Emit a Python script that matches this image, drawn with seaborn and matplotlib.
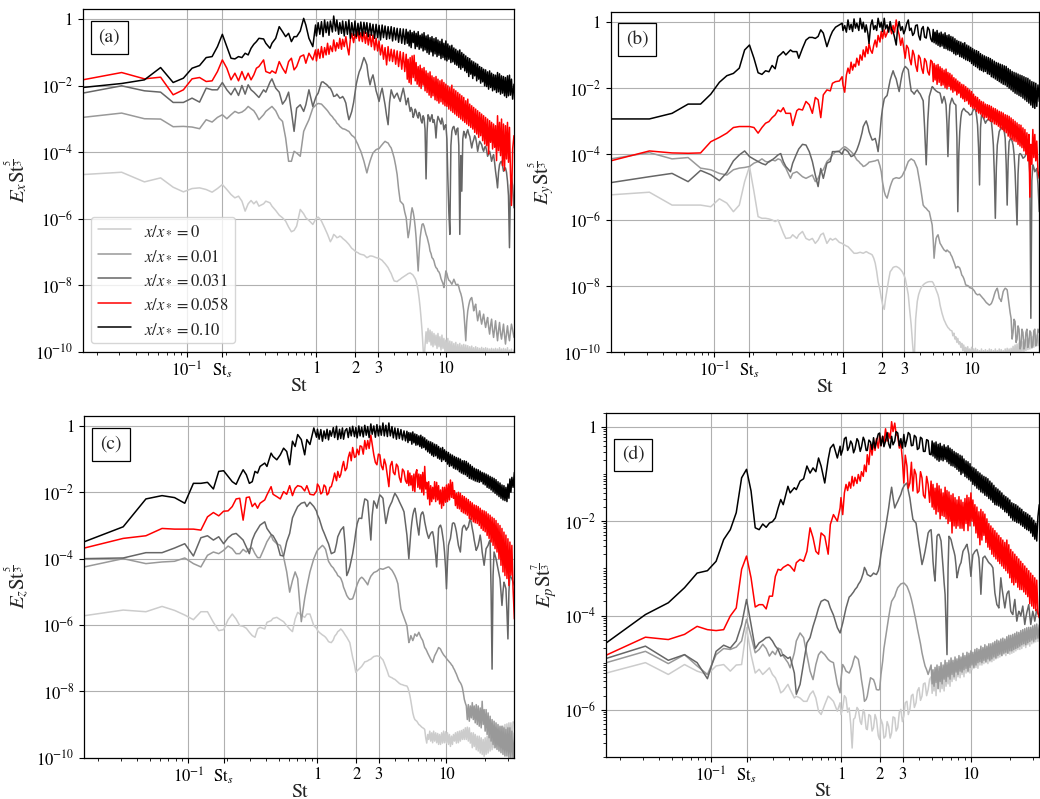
import numpy as np
import pandas as pd
import matplotlib
matplotlib.use("Agg")
import matplotlib.pyplot as plt
import matplotlib.ticker as mticker
import seaborn as sns

# Frequency bins of the spectra: St = bin * DST
DST = 1.0 / 64.0
BINS = [1, 2, 3, 4, 5, 6, 7, 8, 9, 10,
        11, 12, 13, 14, 15, 16, 17, 18, 19, 20,
        21, 22, 23, 25, 26, 28, 29, 31, 33, 35,
        37, 39, 41, 43, 45, 48, 51, 53, 56, 60,
        63, 64, 66, 68, 70, 72, 74, 76, 78, 80,
        82, 85, 87, 90, 92, 95, 97, 100, 102, 105,
        108, 111, 114, 117, 120, 124, 127, 130, 134, 137,
        141, 145, 149, 153, 157, 161, 166, 170, 175, 180,
        185, 190, 195, 200, 206, 211, 217, 223, 229, 235,
        242, 248, 255, 262, 269, 276, 284, 292, 300, 308,
        316, 322, 327, 333, 339, 345, 351, 358, 364, 371,
        377, 384, 391, 398, 405, 412, 419, 427, 434, 442,
        450, 458, 466, 475, 483, 492, 500, 509, 518, 528,
        537, 547, 556, 566, 576, 587, 597, 608, 618, 630,
        640, 652, 663, 675, 687, 700, 712, 725, 738, 751,
        764, 778, 792, 806, 820, 835, 850, 865, 880, 896,
        912, 928, 945, 962, 979, 997, 1014, 1033, 1050, 1069,
        1088, 1108, 1127, 1148, 1168, 1189, 1210, 1232, 1253, 1276,
        1298, 1322, 1345, 1369, 1394, 1419, 1444, 1470, 1496, 1523,
        1549, 1577, 1605, 1634, 1663, 1693, 1723, 1754, 1785, 1817,
        1849, 1883, 1916, 1950, 1985, 2020, 2056, 2100, 2150]
ST_S = 12 * DST  # shedding Strouhal number

STATIONS = [r"$x/x_*=0$", r"$x/x_*=0.01$", r"$x/x_*=0.031$",
            r"$x/x_*=0.058$", r"$x/x_*=0.10$"]
COLORS = ["#cccccc", "#999999", "#666666", "#ff0000", "#000000"]

# ---- log10 of compensated spectra, E_x St^(5/3) ----
EX_X000 = [-4.67, -4.60, -4.89, -4.77, -5.05, -5.19, -5.09, -5.07, -5.12, -5.20,
           -5.09, -4.97, -5.12, -5.27, -5.37, -5.32, -5.47, -5.77, -5.55, -5.45,
           -5.55, -5.47, -5.62, -5.55, -5.47, -5.52, -5.62, -5.75, -5.89, -5.97,
           -6.07, -6.25, -6.39, -6.35, -6.22, -5.72, -5.85, -5.97, -6.05, -6.17,
           -6.02, -5.98, -5.95, -6.00, -6.07, -6.17, -6.27, -6.37, -6.47, -6.58,
           -6.69, -6.58, -6.47, -6.52, -6.57, -6.55, -6.52, -6.55, -6.59, -6.63,
           -6.67, -6.72, -6.77, -6.83, -6.89, -6.93, -6.97, -7.00, -7.02, -7.05,
           -7.07, -7.08, -7.09, -7.13, -7.17, -7.15, -7.12, -7.12, -7.13, -7.15,
           -7.17, -7.18, -7.19, -7.22, -7.25, -7.30, -7.35, -7.41, -7.47, -7.56,
           -7.65, -7.76, -7.87, -7.88, -7.89, -7.85, -7.82, -7.78, -7.75, -7.72,
           -7.69, -7.67, -7.65, -7.64, -7.63, -7.65, -7.67, -7.70, -7.75, -7.80,
           -7.87, -8.00, -8.17, -8.40, -8.67, -9.00, -9.37, -9.90, -10.3, -9.80,
           -9.40, -9.75, -9.30, -9.70, -9.35, -9.80, -9.40, -9.85, -9.45, -9.80,
           -9.50, -9.90, -9.45, -9.85, -9.55, -9.95, -9.50, -9.90, -9.60, -10.0,
           -9.65, -10.05, -9.60, -10.1, -9.68, -10.1, -9.70, -10.15, -9.75, -10.2,
           -9.72, -10.2, -9.78, -10.2, -9.75, -10.2, -9.80, -10.2, -9.78, -10.2,
           -9.80, -10.2, -9.82, -10.2, -9.85, -10.2, -9.83, -10.2, -9.88, -10.2,
           -9.85, -10.2, -9.88, -10.2, -9.90, -10.2, -9.87, -10.2, -9.90, -10.2,
           -9.88, -10.2, -9.90, -10.2, -9.92, -10.2, -9.90, -10.2, -9.92, -10.2,
           -9.90, -10.2, -9.92, -10.2, -9.88, -10.2, -9.92, -10.2, -9.90, -10.2,
           -9.92, -10.2, -9.88, -10.2, -9.95, -10.2, -9.92, -10.2, -9.95]
EX_X010 = [-2.95, -2.82, -2.99, -3.00, -3.23, -3.22, -3.24, -3.29, -3.02, -3.09,
           -2.95, -2.87, -2.99, -2.87, -2.77, -2.82, -2.79, -2.72, -2.62, -2.69,
           -2.75, -2.87, -3.02, -2.87, -2.77, -2.67, -2.62, -2.75, -2.97, -3.07,
           -3.57, -4.27, -4.27, -3.97, -4.02, -4.12, -3.37, -3.22, -3.02, -2.67,
           -2.59, -2.56, -2.53, -2.54, -2.55, -2.60, -2.65, -2.70, -2.75, -2.81,
           -2.87, -2.93, -2.99, -3.05, -3.12, -3.17, -3.22, -3.26, -3.29, -3.30,
           -3.32, -3.35, -3.37, -3.43, -3.49, -3.53, -3.57, -3.67, -3.77, -3.87,
           -3.97, -4.12, -4.27, -4.45, -4.62, -4.45, -4.27, -4.15, -4.02, -3.97,
           -3.92, -3.90, -3.89, -3.83, -3.77, -3.72, -3.67, -3.70, -3.72, -3.80,
           -3.87, -4.00, -4.17, -4.40, -4.67, -5.10, -5.47, -5.52, -5.57, -5.80,
           -5.97, -6.30, -6.57, -6.40, -6.17, -5.85, -5.67, -5.80, -5.97, -6.25,
           -6.57, -7.10, -7.57, -7.00, -6.57, -6.35, -6.17, -6.15, -6.22, -6.35,
           -6.47, -6.55, -6.67, -6.80, -6.97, -7.05, -7.17, -7.20, -7.27, -7.40,
           -7.47, -7.50, -7.57, -7.60, -7.67, -7.80, -7.87, -7.95, -8.07, -7.80,
           -7.57, -7.65, -7.77, -7.85, -7.87, -7.92, -7.97, -7.90, -7.82, -7.90,
           -7.97, -8.00, -7.97, -8.05, -8.17, -8.25, -8.37, -8.55, -8.77, -9.20,
           -9.67, -9.10, -8.77, -8.60, -8.47, -8.40, -8.37, -8.55, -8.77, -8.65,
           -8.57, -8.85, -9.07, -8.90, -8.77, -9.00, -9.17, -9.00, -8.87, -9.10,
           -9.27, -9.10, -8.97, -9.25, -9.47, -9.20, -9.02, -9.35, -9.57, -9.30,
           -9.07, -9.40, -9.67, -9.35, -9.12, -9.45, -9.62, -9.40, -9.17, -9.50,
           -9.77, -9.45, -9.22, -9.50, -9.67, -9.40, -9.17, -9.35, -9.57]
EX_X031 = [-2.22, -2.00, -2.15, -2.19, -2.50, -2.50, -2.37, -2.49, -2.07, -2.12,
           -2.12, -1.90, -2.12, -2.27, -2.07, -2.29, -1.99, -2.25, -1.97, -2.12,
           -2.19, -2.27, -2.35, -2.12, -2.19, -1.89, -1.79, -2.07, -2.19, -2.55,
           -2.42, -2.19, -2.77, -3.37, -2.67, -2.57, -2.77, -2.57, -2.12, -2.62,
           -2.37, -2.30, -2.22, -2.05, -1.89, -1.88, -1.92, -1.95, -1.99, -2.05,
           -2.07, -2.20, -2.32, -2.30, -2.25, -2.32, -2.37, -2.35, -2.32, -2.40,
           -2.52, -2.80, -3.02, -2.90, -2.77, -2.50, -2.22, -1.95, -1.72, -1.58,
           -1.47, -1.30, -1.15, -1.25, -1.37, -1.70, -1.97, -1.80, -1.67, -1.90,
           -2.15, -2.30, -2.47, -2.25, -2.07, -2.30, -2.57, -2.90, -3.17, -2.50,
           -2.12, -2.25, -2.37, -2.28, -2.22, -2.35, -2.47, -2.25, -2.07, -2.30,
           -2.57, -2.45, -2.37, -2.60, -2.77, -2.65, -2.72, -2.95, -2.87, -2.70,
           -2.77, -2.90, -2.97, -2.80, -2.87, -3.05, -3.12, -2.90, -2.97, -3.30,
           -4.80, -3.40, -2.87, -2.95, -3.07, -2.95, -2.87, -3.10, -3.02, -3.20,
           -3.57, -3.10, -2.92, -3.00, -3.07, -3.15, -2.97, -3.10, -3.32, -3.20,
           -3.17, -3.60, -4.77, -5.80, -6.47, -3.80, -3.37, -3.25, -3.22, -3.35,
           -3.47, -3.30, -3.27, -3.80, -6.47, -4.10, -5.17, -3.60, -3.37, -3.45,
           -3.57, -3.40, -3.32, -3.45, -3.52, -3.70, -3.87, -3.70, -3.62, -3.50,
           -3.57, -3.75, -3.97, -3.80, -3.67, -3.72, -3.77, -3.90, -3.97, -3.85,
           -3.82, -3.95, -4.12, -4.05, -3.97, -4.10, -4.27, -4.15, -4.07, -4.30,
           -4.57, -4.80, -5.07, -4.60, -4.37, -4.30, -4.27, -4.40, -4.57, -4.50,
           -4.47, -4.60, -4.87, -5.30, -6.87, -5.00, -4.77, -5.00, -5.67]
EX_X058 = [-1.82, -1.60, -1.79, -1.74, -2.27, -2.12, -1.79, -1.75, -1.87, -1.85,
           -1.57, -1.22, -1.47, -1.82, -1.62, -1.85, -1.57, -1.82, -1.62, -1.82,
           -1.67, -1.47, -1.42, -1.22, -1.57, -1.62, -1.55, -1.62, -1.27, -1.47,
           -1.62, -1.27, -1.17, -1.52, -1.42, -1.12, -1.07, -1.32, -1.02, -1.22,
           -0.92, -1.25, -0.90, -1.17, -0.82, -1.15, -0.85, -1.07, -0.72, -1.05,
           -0.80, -0.97, -0.62, -0.95, -0.70, -0.87, -0.57, -0.90, -0.60, -0.82,
           -0.52, -0.85, -1.07, -0.60, -0.42, -0.70, -0.45, -0.57, -0.35, -0.65,
           -0.40, -0.67, -0.37, -0.72, -0.40, -0.77, -0.45, -0.82, -0.47, -0.92,
           -0.57, -0.95, -0.65, -1.07, -0.77, -1.20, -0.85, -1.37, -0.82, -1.25,
           -0.90, -1.27, -0.92, -1.35, -0.95, -1.42, -0.97, -1.50, -1.00, -1.57,
           -1.05, -1.80, -1.20, -1.90, -1.15, -1.95, -1.10, -1.75, -1.08, -1.85,
           -1.30, -1.95, -1.42, -2.02, -1.38, -2.08, -1.48, -1.98, -1.45, -2.15,
           -1.55, -2.20, -1.62, -2.28, -1.58, -2.35, -1.70, -2.30, -1.75, -2.42,
           -1.72, -2.45, -1.80, -2.52, -1.85, -2.48, -1.82, -2.55, -1.90, -2.60,
           -1.95, -2.62, -2.00, -2.70, -2.05, -2.75, -1.98, -2.80, -2.10, -2.85,
           -2.15, -2.90, -2.20, -2.95, -2.25, -3.00, -2.30, -3.05, -2.35, -3.10,
           -2.45, -3.15, -2.40, -3.20, -2.55, -3.25, -2.60, -3.30, -2.65, -3.40,
           -2.70, -3.45, -2.75, -3.55, -2.80, -3.50, -2.85, -3.65, -2.90, -3.75,
           -2.95, -3.80, -3.00, -4.05, -3.05, -3.70, -3.10, -3.90, -3.15, -3.85,
           -3.20, -4.25, -2.90, -3.95, -3.10, -4.10, -3.00, -4.40, -3.15, -4.55,
           -3.20, -4.20, -3.10, -4.30, -3.25, -4.60, -5.60, -3.90, -3.50]
EX_X100 = [-2.05, -1.93, -1.82, -1.45, -1.90, -1.77, -1.47, -1.39, -1.15, -1.12,
           -0.82, -0.45, -0.82, -1.17, -1.19, -1.12, -1.15, -1.02, -1.07, -0.87,
           -0.75, -0.67, -0.57, -0.59, -0.72, -0.87, -0.72, -0.57, -0.22, -0.37,
           -0.52, -0.42, -0.67, -0.52, -0.52, -0.35, 0.03, -0.17, -0.57, -0.82,
           -0.17, -0.50, -0.10, -0.45, -0.07, -0.52, -0.02, -0.40, -0.08, -0.48,
           -0.05, -0.38, 0.10, -0.35, -0.02, -0.45, -0.10, -0.42, -0.05, -0.50,
           -0.07, -0.45, -0.02, -0.57, -0.10, -0.48, -0.05, -0.52, -0.12, -0.47,
           -0.08, -0.50, -0.09, -0.42, -0.10, -0.52, -0.12, -0.48, -0.15, -0.57,
           -0.15, -0.55, -0.18, -0.62, -0.17, -0.55, -0.20, -0.60, -0.22, -0.58,
           -0.22, -0.65, -0.25, -0.62, -0.27, -0.69, -0.28, -0.72, -0.29, -0.75,
           -0.30, -0.72, -0.38, -0.80, -0.33, -0.85, -0.40, -0.70, -0.36, -0.88,
           -0.42, -0.82, -0.37, -0.90, -0.48, -0.86, -0.44, -0.95, -0.40, -0.92,
           -0.50, -1.00, -0.47, -1.05, -0.55, -0.98, -0.52, -1.10, -0.58, -1.04,
           -0.55, -1.12, -0.62, -1.08, -0.66, -1.18, -0.60, -1.15, -0.72, -1.22,
           -0.65, -1.25, -0.74, -1.20, -0.80, -1.30, -0.78, -1.28, -0.86, -1.35,
           -0.90, -1.38, -0.95, -1.45, -0.92, -1.50, -1.00, -1.45, -1.05, -1.55,
           -1.10, -1.60, -1.15, -1.72, -1.18, -1.65, -1.25, -1.78, -1.28, -1.70,
           -1.32, -1.85, -1.35, -1.80, -1.42, -1.92, -1.45, -1.88, -1.50, -2.00,
           -1.52, -2.02, -1.58, -2.10, -1.55, -2.05, -1.62, -2.15, -1.66, -2.12,
           -1.68, -2.20, -1.60, -2.18, -1.64, -2.25, -1.70, -2.22, -1.72, -2.30,
           -1.75, -2.35, -1.70, -2.30, -1.68, -2.28, -1.80, -2.40, -1.95]

# ---- E_y St^(5/3) ----
EY_X000 = [-5.23, -5.15, -5.54, -5.54, -5.54, -5.59, -5.35, -5.48, -5.74, -5.54,
           -4.83, -4.37, -5.13, -5.89, -5.94, -5.94, -5.96, -5.99, -6.04, -5.99,
           -6.19, -6.39, -6.55, -6.53, -6.44, -6.55, -6.44, -6.34, -6.55, -6.60,
           -6.55, -6.70, -6.60, -6.44, -6.39, -6.70, -6.55, -6.60, -6.55, -6.67,
           -6.70, -6.72, -6.75, -6.78, -6.80, -6.85, -6.90, -6.95, -7.00, -7.00,
           -7.00, -6.98, -6.97, -6.99, -7.00, -6.97, -6.95, -6.98, -7.00, -7.02,
           -7.05, -7.15, -7.30, -7.55, -7.86, -8.10, -8.35, -8.55, -8.70, -8.40,
           -8.10, -7.80, -7.56, -7.50, -7.43, -7.41, -7.40, -7.42, -7.45, -7.50,
           -7.56, -7.65, -7.76, -7.98, -8.26, -8.70, -9.17, -9.80, -10.3, -9.00,
           -8.46, -8.25, -8.11, -8.02, -7.96, -7.92, -7.89, -7.87, -7.86, -7.86,
           -7.86, -7.90, -7.96, -8.03, -8.11, -8.18, -8.26, -8.40, -8.57, -8.70,
           -8.82, -8.92, -9.02, -9.08, -9.15, -9.20, -9.25, -9.28, -9.32, -9.34,
           -9.35, -9.50, -9.42, -9.60, -9.53, -9.70, -9.58, -9.75, -9.68, -9.85,
           -9.73, -9.95, -9.78, -10.0, -9.85, -10.05, -9.83, -10.1, -9.90, -10.1,
           -9.85, -10.2, -9.90, -10.2, -9.88, -10.2, -9.92, -10.2, -9.95, -10.2,
           -9.90, -10.2, -9.95, -10.2, -9.92, -10.2, -9.95, -10.2, -9.90, -10.2,
           -9.92, -10.2, -9.95, -10.2, -9.90, -10.2, -9.95, -10.2, -9.90, -10.2,
           -9.92, -10.2, -9.95, -10.2, -9.90, -10.2, -9.88, -10.2, -9.90, -10.2,
           -9.88, -10.2, -9.82, -10.15, -9.78, -10.1, -9.75, -10.1, -9.72, -10.05,
           -9.70, -10.0, -9.68, -10.0, -9.62, -9.95, -9.60, -9.92, -9.58, -9.90,
           -9.55, -9.88, -9.52, -9.85, -9.50, -9.82, -9.48, -9.80, -9.50]
EY_X010 = [-4.14, -3.95, -4.14, -4.10, -4.42, -4.47, -4.58, -4.63, -4.47, -4.42,
           -4.40, -4.37, -4.27, -4.22, -4.14, -4.22, -4.24, -4.17, -4.20, -4.14,
           -4.17, -4.32, -4.42, -4.73, -4.58, -4.53, -4.58, -4.68, -4.73, -4.68,
           -4.63, -4.83, -4.73, -4.53, -4.47, -4.22, -4.12, -4.02, -3.92, -3.90,
           -3.82, -3.80, -3.77, -3.80, -3.84, -3.88, -3.92, -3.97, -4.02, -4.10,
           -4.17, -4.22, -4.27, -4.32, -4.37, -4.35, -4.32, -4.28, -4.24, -4.23,
           -4.22, -4.21, -4.20, -4.18, -4.17, -4.35, -4.53, -4.85, -5.13, -5.25,
           -5.33, -5.15, -4.98, -4.85, -4.75, -4.73, -4.71, -4.72, -4.73, -4.70,
           -4.65, -4.55, -4.47, -4.35, -4.22, -4.18, -4.14, -4.17, -4.20, -4.30,
           -4.42, -4.65, -4.93, -5.25, -5.54, -5.60, -5.64, -5.70, -5.74, -5.95,
           -6.14, -6.60, -7.15, -6.80, -6.55, -6.48, -6.44, -6.58, -6.70, -6.75,
           -6.80, -6.85, -6.90, -6.92, -6.95, -6.90, -6.93, -6.96, -6.97, -7.05,
           -7.10, -7.18, -7.25, -7.35, -7.45, -7.42, -7.40, -7.42, -7.45, -7.55,
           -7.66, -7.70, -7.76, -7.85, -7.96, -7.97, -7.98, -8.00, -8.04, -8.05,
           -8.06, -8.08, -8.11, -8.15, -8.21, -8.24, -8.26, -8.25, -8.24, -8.28,
           -8.31, -8.35, -8.38, -8.42, -8.46, -8.50, -8.52, -8.55, -8.57, -8.55,
           -8.52, -8.45, -8.36, -8.25, -8.16, -8.10, -8.06, -8.20, -8.36, -8.40,
           -8.46, -8.30, -8.16, -8.10, -8.06, -8.08, -8.11, -8.35, -8.57, -8.80,
           -8.97, -9.60, -9.40, -9.00, -9.07, -9.70, -9.60, -9.20, -9.30, -9.90,
           -9.80, -9.30, -9.40, -9.90, -9.80, -9.40, -9.30, -9.85, -9.70, -9.35,
           -9.40, -9.85, -9.80, -9.35, -9.30, -9.80, -9.70, -9.30, -9.40]
EY_X031 = [-4.86, -4.68, -4.58, -4.83, -4.49, -4.62, -4.80, -4.55, -4.20, -4.02,
           -3.90, -4.07, -4.15, -4.22, -4.28, -4.32, -4.22, -4.17, -4.10, -4.02,
           -3.98, -4.22, -4.37, -4.53, -4.27, -3.97, -3.84, -3.70, -3.72, -3.92,
           -4.22, -4.63, -4.98, -4.43, -4.73, -4.27, -4.22, -3.92, -3.92, -3.92,
           -4.00, -3.92, -3.84, -3.88, -3.92, -4.00, -4.07, -4.05, -4.02, -3.95,
           -3.87, -3.70, -3.57, -3.35, -3.16, -3.05, -2.99, -3.15, -3.31, -3.45,
           -3.57, -3.55, -3.52, -3.70, -3.92, -3.40, -2.91, -2.60, -2.32, -2.27,
           -2.22, -1.98, -1.75, -1.60, -1.47, -1.60, -1.72, -1.90, -2.10, -1.80,
           -1.55, -1.42, -1.34, -1.38, -1.44, -1.75, -2.08, -2.12, -2.18, -2.10,
           -2.05, -2.12, -2.18, -2.28, -2.38, -3.20, -4.32, -3.00, -2.25, -2.10,
           -1.95, -1.98, -2.02, -2.05, -2.08, -2.10, -2.12, -2.13, -2.15, -2.30,
           -2.45, -2.35, -2.25, -2.35, -2.51, -3.10, -4.07, -3.00, -2.51, -2.40,
           -2.30, -2.38, -2.45, -2.48, -2.51, -3.50, -5.74, -4.00, -3.31, -2.90,
           -2.71, -2.65, -2.61, -2.65, -2.69, -2.71, -2.73, -2.76, -2.81, -2.80,
           -2.79, -2.70, -2.63, -2.64, -2.66, -2.85, -3.11, -3.80, -4.93, -3.20,
           -2.81, -2.85, -2.91, -2.98, -3.06, -3.00, -2.96, -2.95, -2.96, -2.98,
           -3.01, -3.30, -3.72, -4.60, -5.94, -4.40, -3.72, -3.50, -3.31, -3.25,
           -3.21, -3.18, -3.16, -3.30, -3.52, -4.30, -5.54, -4.20, -3.62, -3.55,
           -3.52, -3.60, -3.72, -4.00, -4.53, -5.30, -6.14, -4.60, -4.02, -3.98,
           -4.00, -4.05, -4.12, -4.10, -4.07, -4.00, -3.97, -4.05, -4.12, -4.60,
           -8.97, -4.80, -4.32, -4.40, -4.53, -4.48, -4.43, -4.90, -5.74]
EY_X058 = [-4.20, -3.90, -3.96, -3.97, -3.96, -3.62, -3.49, -3.36, -3.19, -3.16,
           -3.16, -3.16, -3.19, -3.36, -3.19, -3.06, -3.01, -2.89, -2.81, -2.66,
           -2.71, -2.59, -2.76, -2.76, -3.13, -2.68, -2.63, -2.66, -2.40, -2.50,
           -2.76, -2.28, -2.35, -2.89, -2.20, -2.05, -2.08, -1.85, -1.80, -1.78,
           -1.65, -1.90, -2.12, -1.60, -1.39, -1.55, -1.21, -1.45, -1.27, -1.35,
           -1.09, -1.30, -0.99, -1.15, -0.84, -1.05, -0.74, -0.95, -0.64, -0.85,
           -0.94, -0.70, -0.54, -0.75, -0.40, -0.60, -0.28, -0.50, -0.23, -0.45,
           -0.33, -0.15, -0.16, -0.35, -0.10, -0.30, 0.07, -0.20, -0.38, -0.70,
           -0.48, -0.80, -1.09, -0.70, -0.79, -1.10, -1.29, -0.85, -0.99, -1.30,
           -1.49, -1.00, -1.09, -1.40, -1.55, -1.10, -1.19, -1.50, -1.60, -1.15,
           -1.20, -1.80, -1.25, -1.75, -1.30, -1.88, -1.28, -1.82, -1.35, -1.92,
           -1.40, -1.90, -1.45, -1.98, -1.42, -2.02, -1.52, -1.95, -1.55, -2.05,
           -1.60, -2.12, -1.68, -2.08, -1.72, -2.20, -1.78, -2.15, -1.82, -2.28,
           -1.88, -2.32, -1.90, -2.40, -1.95, -2.38, -2.00, -2.48, -2.05, -2.55,
           -2.10, -2.60, -2.18, -2.62, -2.25, -2.70, -2.28, -2.75, -2.35, -2.78,
           -2.40, -2.85, -2.42, -2.90, -2.48, -2.88, -2.50, -2.95, -2.52, -3.00,
           -2.55, -3.02, -2.60, -3.08, -2.62, -3.10, -2.66, -3.15, -2.70, -3.20,
           -2.72, -3.25, -2.75, -3.30, -2.80, -3.35, -2.82, -3.45, -2.85, -3.50,
           -2.90, -3.55, -2.95, -3.60, -3.00, -3.62, -3.05, -3.70, -3.10, -3.75,
           -3.12, -3.80, -3.20, -3.90, -3.25, -4.00, -3.35, -4.20, -3.40, -5.30,
           -3.70, -4.30, -3.25, -4.10, -3.40, -4.20, -3.60, -4.50, -4.73]
EY_X100 = [-2.93, -2.93, -2.76, -2.48, -2.48, -2.18, -1.82, -1.62, -1.55, -1.39,
           -0.84, -0.69, -1.09, -1.53, -1.58, -1.47, -1.50, -1.31, -1.41, -1.04,
           -0.97, -0.89, -0.99, -0.84, -0.89, -0.89, -1.09, -0.79, -0.54, -0.46,
           -0.46, -0.49, -0.43, -0.23, -0.33, -0.74, -0.43, -0.28, -0.15, -0.08,
           -0.03, -0.25, -0.10, -0.30, 0.07, -0.22, -0.06, -0.28, 0.10, -0.18,
           -0.03, -0.25, 0.12, -0.20, 0.00, -0.30, -0.08, -0.35, -0.64, -0.10,
           0.07, -0.22, -0.10, -0.25, 0.12, -0.15, 0.00, -0.28, 0.12, -0.20,
           -0.08, -0.30, 0.02, -0.22, -0.28, -0.45, -0.69, -0.20, 0.02, -0.25,
           -0.13, -0.35, -0.23, -0.05, 0.07, -0.25, -0.18, -0.40, -0.33, -0.10,
           -0.08, -0.40, -0.54, -0.20, -0.13, -0.45, -0.48, -0.15, -0.23, -0.50,
           -0.59, -0.22, -0.62, -0.30, -0.66, -0.25, -0.70, -0.33, -0.74, -0.30,
           -0.72, -0.36, -0.79, -0.32, -0.80, -0.40, -0.84, -0.38, -0.86, -0.43,
           -0.89, -0.45, -0.95, -0.50, -0.99, -0.55, -0.97, -0.58, -1.04, -0.60,
           -1.06, -0.64, -1.10, -0.62, -1.14, -0.69, -1.16, -0.72, -1.19, -0.76,
           -1.25, -0.80, -1.30, -0.84, -1.34, -0.86, -1.38, -0.89, -1.44, -0.95,
           -1.46, -0.99, -1.50, -1.02, -1.49, -1.05, -1.56, -1.07, -1.58, -1.10,
           -1.65, -1.14, -1.68, -1.18, -1.72, -1.22, -1.76, -1.24, -1.80, -1.27,
           -1.84, -1.29, -1.88, -1.32, -1.90, -1.34, -1.95, -1.40, -2.00, -1.44,
           -2.05, -1.49, -2.10, -1.52, -2.15, -1.54, -2.18, -1.57, -2.22, -1.60,
           -2.25, -1.62, -2.30, -1.65, -2.35, -1.68, -2.40, -1.70, -2.45, -1.75,
           -2.51, -1.80, -2.58, -1.82, -2.61, -1.85, -2.55, -1.90, -2.40]

# ---- E_z St^(5/3) ----
EZ_X000 = [-5.72, -5.55, -5.60, -5.44, -5.56, -5.70, -5.84, -5.60, -5.60, -5.92,
           -6.17, -6.14, -5.84, -5.67, -5.82, -6.02, -6.04, -6.10, -6.22, -6.32,
           -6.37, -6.12, -6.07, -6.12, -5.92, -5.87, -5.80, -5.77, -5.84, -5.90,
           -6.02, -6.12, -6.20, -5.82, -5.62, -5.70, -5.77, -5.67, -5.67, -6.02,
           -6.10, -6.16, -6.22, -6.26, -6.30, -6.33, -6.37, -6.43, -6.50, -6.52,
           -6.53, -6.45, -6.34, -6.27, -6.20, -6.16, -6.12, -6.17, -6.22, -6.30,
           -6.37, -6.45, -6.53, -6.75, -6.98, -7.20, -7.43, -7.38, -7.33, -7.29,
           -7.25, -7.18, -7.11, -7.10, -7.08, -7.05, -7.03, -6.99, -6.95, -6.94,
           -6.93, -6.94, -6.95, -7.00, -7.05, -7.15, -7.28, -7.40, -7.54, -7.57,
           -7.59, -7.62, -7.64, -7.68, -7.72, -7.76, -7.79, -7.80, -7.82, -7.83,
           -7.84, -7.90, -7.99, -8.12, -8.29, -8.48, -8.65, -8.78, -8.85, -8.88,
           -8.90, -8.95, -9.00, -9.02, -9.05, -9.08, -9.10, -9.12, -9.15, -9.40,
           -9.56, -9.30, -9.45, -9.20, -9.50, -9.25, -9.55, -9.20, -9.50, -9.25,
           -9.55, -9.27, -9.60, -9.30, -9.60, -9.25, -9.56, -9.20, -9.55, -9.22,
           -9.56, -9.25, -9.60, -9.30, -9.66, -9.35, -9.60, -9.30, -9.50, -9.25,
           -9.56, -9.22, -9.55, -9.20, -9.50, -9.18, -9.45, -9.15, -9.45, -9.10,
           -9.45, -9.08, -9.50, -9.10, -9.56, -9.25, -9.70, -9.25, -9.66, -9.30,
           -9.76, -9.35, -9.80, -9.35, -9.86, -9.40, -9.90, -9.45, -9.96, -9.40,
           -9.90, -9.35, -9.86, -9.30, -9.80, -9.25, -9.76, -9.20, -9.70, -9.15,
           -9.66, -9.15, -9.60, -9.10, -9.56, -9.08, -9.55, -9.05, -9.50, -9.00,
           -9.50, -8.98, -9.45, -8.95, -9.40, -8.95, -9.40, -8.92, -8.95]
EZ_X010 = [-4.25, -4.00, -4.15, -4.10, -4.08, -3.98, -4.15, -4.25, -3.90, -3.80,
           -3.85, -3.75, -3.62, -3.70, -3.85, -3.85, -3.72, -3.80, -3.70, -3.68,
           -3.85, -3.97, -3.97, -3.65, -3.49, -3.29, -3.44, -3.55, -3.60, -3.95,
           -4.40, -5.01, -4.66, -4.40, -4.60, -5.90, -5.20, -4.85, -4.40, -4.00,
           -3.80, -3.75, -3.70, -3.65, -3.60, -3.65, -3.72, -3.90, -4.08, -4.15,
           -4.22, -4.28, -4.35, -4.43, -4.51, -4.55, -4.59, -4.72, -4.86, -4.98,
           -5.11, -5.18, -5.23, -5.22, -5.21, -5.05, -4.91, -4.78, -4.66, -4.60,
           -4.56, -4.60, -4.66, -4.72, -4.79, -4.65, -4.53, -4.48, -4.42, -4.40,
           -4.38, -4.34, -4.30, -4.31, -4.32, -4.30, -4.28, -4.26, -4.25, -4.30,
           -4.35, -4.42, -4.51, -4.62, -4.76, -5.15, -5.52, -5.65, -5.77, -5.90,
           -6.02, -6.30, -6.53, -6.45, -6.32, -6.40, -6.47, -6.38, -6.27, -6.30,
           -6.34, -6.28, -6.22, -6.30, -6.37, -6.42, -6.47, -6.58, -6.68, -6.72,
           -6.78, -6.85, -6.91, -6.97, -7.03, -7.08, -7.13, -7.03, -6.93, -6.87,
           -6.81, -6.74, -6.68, -6.70, -6.73, -6.80, -6.85, -6.90, -6.93, -6.97,
           -7.01, -7.05, -7.08, -7.12, -7.15, -7.20, -7.23, -7.30, -7.35, -7.42,
           -7.48, -7.56, -7.64, -7.70, -7.74, -7.80, -7.89, -8.05, -8.24, -8.35,
           -8.44, -8.85, -8.40, -8.90, -8.44, -8.80, -8.34, -8.85, -8.44, -8.95,
           -8.40, -9.00, -8.44, -9.05, -8.50, -9.10, -8.30, -9.00, -8.55, -9.20,
           -8.55, -9.30, -8.65, -9.40, -8.75, -9.50, -8.85, -9.60, -8.90, -9.70,
           -8.95, -9.75, -9.00, -9.80, -9.05, -9.85, -9.05, -9.90, -9.10, -9.95,
           -9.15, -9.95, -9.10, -10.0, -9.10, -10.05, -9.20, -10.1, -9.25]
EZ_X031 = [-4.00, -3.98, -3.82, -3.82, -3.68, -3.55, -3.92, -3.37, -3.31, -3.44,
           -3.34, -3.55, -3.37, -3.27, -3.24, -3.34, -3.44, -3.65, -3.85, -3.44,
           -3.24, -3.11, -2.99, -2.89, -3.09, -3.27, -3.31, -3.51, -3.90, -3.92,
           -3.49, -3.24, -2.77, -2.59, -2.43, -2.33, -2.30, -2.43, -2.30, -2.43,
           -2.57, -2.68, -2.79, -2.95, -3.11, -3.22, -3.34, -3.45, -3.55, -3.70,
           -3.85, -3.82, -3.80, -3.55, -3.34, -3.22, -3.14, -3.08, -3.04, -3.60,
           -4.51, -4.40, -4.25, -4.05, -3.85, -3.50, -3.19, -2.95, -2.79, -2.78,
           -2.79, -2.45, -2.20, -2.22, -2.26, -2.80, -3.44, -2.70, -2.26, -2.35,
           -2.48, -2.25, -2.08, -2.12, -2.18, -2.55, -2.94, -2.70, -2.48, -2.38,
           -2.28, -2.15, -2.03, -2.10, -2.18, -2.28, -2.38, -2.48, -2.59, -2.95,
           -3.29, -3.70, -4.00, -3.60, -3.19, -2.90, -2.69, -2.55, -2.48, -2.65,
           -2.89, -3.10, -3.29, -2.95, -2.69, -2.62, -2.59, -2.70, -2.89, -3.05,
           -3.19, -3.30, -3.39, -3.30, -3.24, -3.20, -3.19, -3.35, -3.60, -3.90,
           -4.25, -3.60, -3.09, -3.02, -2.99, -3.10, -3.29, -3.50, -3.80, -4.30,
           -4.91, -4.10, -3.60, -3.48, -3.39, -3.15, -2.94, -2.92, -2.94, -3.05,
           -3.19, -3.40, -3.60, -3.70, -3.80, -3.40, -3.09, -3.02, -2.99, -3.05,
           -3.14, -3.08, -3.04, -2.90, -2.79, -2.92, -3.09, -3.25, -3.44, -3.60,
           -3.75, -3.68, -3.60, -3.45, -3.29, -3.50, -3.80, -4.00, -4.20, -3.95,
           -3.70, -3.65, -3.60, -3.50, -3.44, -5.00, -7.33, -4.50, -3.80, -3.90,
           -4.00, -4.15, -4.30, -4.45, -4.61, -5.00, -5.41, -5.00, -4.71, -4.80,
           -4.91, -5.60, -6.42, -5.00, -4.51, -4.55, -4.61, -4.70, -4.81]
EZ_X058 = [-3.68, -3.39, -3.31, -3.09, -3.11, -3.11, -3.11, -3.14, -2.74, -2.61,
           -2.71, -2.57, -2.56, -2.43, -2.20, -2.18, -2.84, -2.16, -2.14, -2.43,
           -2.33, -2.48, -2.33, -2.23, -2.08, -1.83, -2.06, -2.13, -2.20, -1.98,
           -2.06, -1.80, -2.10, -1.88, -1.80, -1.83, -1.96, -1.80, -2.06, -2.08,
           -1.96, -1.75, -1.83, -2.05, -2.00, -1.78, -1.83, -2.08, -2.03, -1.85,
           -1.83, -1.60, -1.42, -1.65, -1.37, -1.55, -1.47, -1.20, -1.07, -1.35,
           -1.27, -0.95, -0.79, -1.05, -0.65, -0.95, -0.92, -0.70, -0.87, -0.60,
           -0.62, -0.85, -0.44, -0.70, -0.44, -0.68, -0.28, -0.55, -0.87, -1.10,
           -1.17, -0.85, -0.87, -1.20, -1.32, -1.00, -1.17, -1.50, -1.83, -1.20,
           -1.07, -1.40, -1.47, -1.15, -1.22, -1.55, -1.70, -1.30, -1.37, -1.65,
           -1.73, -1.35, -1.80, -1.42, -1.78, -1.50, -1.95, -1.45, -1.98, -1.40,
           -1.32, -1.85, -1.45, -1.90, -1.47, -2.00, -1.40, -2.08, -1.22, -1.90,
           -1.70, -2.20, -1.68, -2.38, -1.80, -2.28, -1.85, -2.20, -1.68, -2.28,
           -1.70, -2.23, -1.80, -2.35, -1.93, -2.48, -1.85, -2.40, -1.85, -2.30,
           -1.78, -2.28, -1.75, -2.23, -1.63, -2.15, -1.70, -2.18, -1.95, -2.40,
           -2.03, -2.48, -2.00, -2.50, -2.03, -2.58, -2.10, -2.62, -2.13, -2.65,
           -2.18, -2.69, -2.22, -2.79, -2.28, -2.82, -2.32, -2.89, -2.38, -2.92,
           -2.40, -2.94, -2.43, -3.00, -2.48, -3.09, -2.54, -3.15, -2.56, -3.19,
           -2.59, -3.30, -2.65, -3.39, -2.69, -3.50, -2.75, -3.60, -2.79, -3.70,
           -2.85, -3.80, -2.94, -4.00, -3.00, -4.20, -3.09, -4.40, -3.20, -4.51,
           -3.29, -4.60, -3.40, -4.81, -3.50, -4.50, -3.60, -4.90, -5.82]
EZ_X100 = [-3.49, -3.04, -2.20, -2.10, -2.16, -2.33, -1.73, -1.73, -1.70, -1.90,
           -1.37, -1.35, -1.52, -1.68, -1.76, -1.52, -1.32, -1.47, -1.73, -1.68,
           -1.37, -1.42, -1.22, -1.12, -1.22, -0.82, -0.92, -1.02, -0.87, -0.67,
           -0.77, -1.17, -0.46, -0.62, -0.26, -0.41, -0.87, -0.41, -0.56, -0.06,
           -0.34, -0.10, -0.40, -0.11, -0.46, -0.15, -0.38, -0.10, -0.42, -0.14,
           -0.31, -0.05, -0.35, -0.01, -0.41, -0.10, -0.38, -0.06, -0.40, -0.14,
           -0.08, -0.35, -0.05, -0.30, -0.01, -0.32, -0.05, -0.36, 0.00, -0.30,
           -0.04, -0.33, 0.02, -0.28, -0.02, -0.35, 0.06, -0.25, 0.00, -0.34,
           0.04, -0.30, 0.00, -0.28, 0.09, -0.30, 0.02, -0.32, 0.09, -0.30,
           -0.02, -0.36, -0.06, -0.40, -0.08, -0.38, -0.11, -0.42, -0.15, -0.45,
           -0.16, -0.50, -0.20, -0.44, -0.21, -0.55, -0.18, -0.51, -0.24, -0.58,
           -0.26, -0.57, -0.30, -0.62, -0.28, -0.67, -0.33, -0.65, -0.36, -0.72,
           -0.42, -0.78, -0.46, -0.82, -0.48, -0.88, -0.51, -0.92, -0.55, -0.90,
           -0.57, -0.97, -0.62, -1.00, -0.67, -1.07, -0.65, -1.02, -0.72, -1.07,
           -0.77, -1.15, -0.80, -1.22, -0.85, -1.20, -0.88, -1.27, -0.92, -1.30,
           -0.95, -1.32, -0.97, -1.38, -1.00, -1.42, -1.05, -1.45, -1.05, -1.47,
           -1.07, -1.52, -1.12, -1.58, -1.17, -1.60, -1.22, -1.63, -1.27, -1.66,
           -1.30, -1.68, -1.32, -1.70, -1.36, -1.68, -1.40, -1.75, -1.42, -1.78,
           -1.45, -1.85, -1.48, -1.88, -1.52, -1.93, -1.55, -1.98, -1.58, -2.03,
           -1.62, -2.08, -1.68, -2.13, -1.72, -2.18, -1.78, -2.23, -1.80, -2.25,
           -1.85, -2.28, -1.75, -2.18, -1.60, -2.00, -1.55, -1.85, -1.40]

# ---- E_p St^(7/3) ----
EP_X000 = [-5.22, -5.00, -5.25, -5.04, -5.18, -5.25, -5.07, -5.04, -5.18, -5.05,
           -5.04, -4.26, -4.83, -5.22, -5.14, -5.25, -5.18, -5.11, -5.25, -5.32,
           -5.46, -5.64, -5.60, -5.46, -5.57, -5.75, -5.71, -5.75, -5.82, -5.82,
           -5.67, -5.60, -5.75, -6.03, -6.10, -5.89, -5.71, -5.75, -5.82, -6.03,
           -5.85, -6.10, -5.96, -5.70, -5.75, -6.05, -5.96, -6.30, -6.81, -6.20,
           -6.17, -5.95, -5.99, -6.25, -6.31, -6.00, -6.06, -6.40, -6.42, -6.10,
           -6.13, -6.45, -6.38, -6.10, -6.20, -6.55, -6.63, -6.20, -6.31, -6.60,
           -6.56, -6.25, -6.35, -6.60, -6.49, -6.15, -6.17, -6.45, -6.38, -6.05,
           -5.99, -6.25, -6.13, -5.85, -5.82, -6.10, -5.99, -5.70, -5.67, -5.95,
           -5.85, -5.60, -5.53, -5.80, -5.71, -5.45, -5.43, -5.70, -5.57, -5.35,
           -5.30, -5.65, -5.35, -5.60, -5.25, -5.70, -5.30, -5.55, -5.20, -5.62,
           -5.25, -5.55, -5.18, -5.60, -5.15, -5.50, -5.20, -5.45, -5.10, -5.50,
           -5.05, -5.40, -5.10, -5.35, -5.00, -5.38, -5.02, -5.30, -4.98, -5.32,
           -5.00, -5.25, -4.95, -5.30, -4.95, -5.22, -4.92, -5.20, -4.90, -5.22,
           -4.85, -5.15, -4.88, -5.12, -4.82, -5.10, -4.80, -5.12, -4.78, -5.05,
           -4.75, -5.05, -4.78, -5.02, -4.72, -5.00, -4.70, -5.02, -4.68, -4.98,
           -4.70, -4.98, -4.66, -4.95, -4.65, -4.92, -4.62, -4.90, -4.60, -4.88,
           -4.60, -4.85, -4.56, -4.82, -4.55, -4.85, -4.52, -4.80, -4.50, -4.82,
           -4.50, -4.80, -4.48, -4.78, -4.45, -4.75, -4.44, -4.72, -4.40, -4.72,
           -4.38, -4.70, -4.36, -4.65, -4.35, -4.68, -4.33, -4.62, -4.32, -4.65,
           -4.30, -4.60, -4.28, -4.58, -4.26, -4.56, -4.25, -4.55, -4.28]
EP_X010 = [-5.00, -4.76, -5.02, -4.83, -5.07, -5.25, -4.83, -4.70, -4.72, -4.67,
           -4.54, -4.08, -4.44, -4.79, -4.72, -4.61, -4.70, -4.86, -4.76, -4.83,
           -4.69, -4.72, -4.86, -5.00, -5.11, -4.79, -4.54, -4.37, -4.47, -4.83,
           -5.18, -5.36, -5.04, -4.83, -4.76, -4.83, -4.93, -4.97, -5.00, -5.46,
           -5.64, -5.35, -5.04, -5.10, -5.18, -5.20, -5.22, -5.15, -5.07, -4.95,
           -4.86, -4.90, -4.93, -5.15, -5.36, -5.60, -5.82, -5.78, -5.71, -5.50,
           -5.32, -5.34, -5.36, -5.45, -5.57, -5.58, -5.57, -5.25, -4.97, -4.70,
           -4.47, -4.25, -4.04, -3.85, -3.70, -3.65, -3.59, -3.50, -3.41, -3.37,
           -3.33, -3.32, -3.31, -3.34, -3.38, -3.45, -3.54, -3.66, -3.80, -3.95,
           -4.12, -4.28, -4.44, -4.60, -4.79, -4.93, -5.07, -5.15, -5.25, -5.15,
           -5.05, -5.45, -5.15, -5.50, -5.10, -5.42, -5.05, -5.55, -5.08, -5.40,
           -5.00, -5.45, -5.05, -5.35, -4.95, -5.40, -5.00, -5.30, -4.95, -5.35,
           -4.90, -5.25, -4.95, -5.30, -4.88, -5.20, -4.92, -5.25, -4.85, -5.18,
           -4.88, -5.20, -4.80, -5.15, -4.85, -5.12, -4.78, -5.18, -4.80, -5.10,
           -4.75, -5.05, -4.78, -5.10, -4.72, -5.05, -4.70, -5.00, -4.72, -4.98,
           -4.65, -5.00, -4.68, -4.95, -4.62, -4.98, -4.65, -4.92, -4.60, -4.95,
           -4.60, -4.92, -4.58, -4.88, -4.55, -4.90, -4.52, -4.85, -4.54, -4.82,
           -4.50, -4.85, -4.48, -4.80, -4.50, -4.78, -4.45, -4.80, -4.42, -4.75,
           -4.42, -4.75, -4.40, -4.72, -4.38, -4.70, -4.35, -4.68, -4.36, -4.65,
           -4.32, -4.62, -4.30, -4.60, -4.28, -4.62, -4.26, -4.58, -4.25, -4.55,
           -4.25, -4.52, -4.22, -4.55, -4.20, -4.50, -4.18, -4.48, -4.20]
EP_X031 = [-4.91, -4.65, -4.95, -4.83, -5.00, -5.34, -4.76, -4.63, -4.69, -4.54,
           -4.19, -3.66, -4.19, -4.70, -4.58, -4.53, -4.47, -4.46, -4.54, -4.65,
           -4.72, -4.86, -4.83, -4.91, -4.88, -5.22, -5.67, -5.46, -5.00, -4.58,
           -4.47, -4.23, -4.04, -3.84, -3.70, -3.66, -3.70, -3.84, -3.99, -4.26,
           -4.37, -4.30, -4.16, -4.00, -3.84, -3.72, -3.61, -3.58, -3.54, -3.50,
           -3.45, -3.40, -3.34, -3.28, -3.22, -3.10, -2.98, -3.05, -3.13, -3.15,
           -3.17, -3.14, -3.10, -3.12, -3.13, -3.05, -2.92, -2.70, -2.49, -2.32,
           -2.14, -1.92, -1.72, -1.48, -1.28, -1.50, -1.72, -1.65, -1.58, -1.50,
           -1.43, -1.32, -1.26, -1.22, -1.19, -1.35, -1.51, -1.75, -1.96, -2.00,
           -2.04, -2.25, -2.49, -2.70, -2.92, -2.80, -2.64, -2.45, -2.25, -2.20,
           -2.18, -2.50, -2.85, -3.10, -3.27, -2.80, -2.32, -2.28, -2.28, -2.35,
           -2.42, -2.70, -2.99, -3.30, -3.55, -4.20, -4.83, -3.00, -2.32, -2.35,
           -2.39, -2.48, -2.57, -2.65, -2.74, -2.95, -3.20, -3.10, -2.99, -2.92,
           -2.88, -2.75, -2.64, -2.60, -2.57, -2.52, -2.49, -2.60, -2.71, -2.95,
           -3.17, -2.90, -2.71, -2.68, -2.64, -2.62, -2.60, -2.68, -2.78, -3.10,
           -3.55, -3.10, -2.78, -2.76, -2.74, -2.78, -2.81, -2.85, -2.88, -2.90,
           -2.92, -2.95, -2.99, -3.25, -3.52, -3.65, -3.77, -3.80, -3.84, -3.50,
           -3.20, -3.40, -3.55, -3.70, -3.84, -3.70, -3.55, -3.50, -3.48, -3.70,
           -3.91, -3.95, -3.98, -3.80, -3.66, -3.90, -4.12, -4.00, -3.91, -3.95,
           -4.01, -3.90, -3.80, -4.00, -4.19, -4.05, -3.94, -3.85, -3.77, -4.00,
           -4.19, -4.05, -3.91, -4.00, -4.12, -4.00, -3.87, -3.95, -4.01]
EP_X058 = [-4.84, -4.46, -4.51, -4.40, -4.23, -4.30, -4.32, -4.30, -4.01, -3.84,
           -3.02, -2.74, -3.20, -3.82, -3.77, -3.77, -3.86, -3.59, -3.59, -3.17,
           -3.02, -3.04, -2.98, -2.92, -2.95, -3.06, -2.88, -2.81, -2.85, -2.64,
           -2.14, -2.35, -2.64, -2.70, -2.25, -2.32, -2.70, -2.07, -1.86, -2.00,
           -1.72, -1.50, -1.86, -1.40, -1.22, -1.35, -1.17, -1.30, -1.05, -1.25,
           -1.07, -1.20, -1.01, -1.15, -0.95, -1.05, -0.81, -0.95, -0.59, -0.80,
           -0.37, -0.60, -0.32, -0.50, -0.25, -0.45, -0.18, -0.40, -0.20, -0.35,
           -0.04, -0.30, -0.13, -0.25, 0.11, -0.10, 0.08, -0.15, -0.20, -0.45,
           -0.34, -0.70, -1.19, -0.60, -0.83, -1.30, -1.19, -0.75, -1.36, -0.90,
           -1.01, -1.40, -1.36, -0.95, -1.08, -1.45, -1.51, -1.05, -1.22, -1.60,
           -1.15, -1.70, -1.22, -1.75, -1.30, -1.85, -1.20, -1.80, -1.25, -1.95,
           -1.32, -1.88, -1.40, -1.90, -1.28, -1.95, -1.35, -2.05, -1.38, -2.00,
           -1.45, -2.25, -1.42, -2.10, -1.50, -2.15, -1.55, -2.10, -1.48, -2.15,
           -1.55, -2.15, -1.60, -2.20, -1.52, -2.05, -1.45, -2.20, -1.50, -2.10,
           -1.40, -2.00, -1.55, -2.10, -1.65, -2.25, -1.70, -2.35, -1.80, -2.50,
           -1.75, -2.40, -1.80, -2.30, -1.85, -2.45, -1.95, -2.55, -2.05, -2.60,
           -2.10, -2.70, -2.15, -2.75, -2.20, -2.80, -2.25, -2.85, -2.30, -2.90,
           -2.35, -2.95, -2.40, -3.00, -2.45, -3.05, -2.40, -3.10, -2.50, -3.20,
           -2.60, -3.30, -2.65, -3.35, -2.70, -3.30, -2.75, -3.40, -2.80, -3.45,
           -2.85, -3.45, -2.90, -3.50, -2.95, -3.55, -3.00, -3.60, -3.05, -3.75,
           -3.10, -3.80, -3.15, -3.85, -3.20, -3.90, -3.25, -3.95, -4.05]
EP_X100 = [-4.58, -3.98, -3.73, -3.41, -3.10, -3.05, -2.85, -2.39, -2.18, -1.82,
           -1.08, -0.90, -1.36, -2.14, -2.18, -2.06, -2.13, -2.04, -2.01, -1.93,
           -1.72, -1.54, -1.65, -1.26, -1.40, -1.29, -1.33, -1.15, -1.10, -0.83,
           -0.98, -0.87, -0.95, -0.66, -0.83, -1.19, -0.69, -0.45, -0.37, -0.66,
           -0.41, -0.60, -0.48, -0.25, -0.22, -0.50, -0.43, -0.30, -0.36, -0.55,
           -0.47, -0.25, -0.30, -0.52, -0.43, -0.22, -0.28, -0.50, -0.50, -0.28,
           -0.32, -0.48, -0.23, -0.45, -0.30, -0.15, -0.13, -0.40, -0.20, -0.42,
           -0.30, -0.12, -0.36, -0.45, -0.20, -0.38, -0.30, -0.10, -0.13, -0.40,
           -0.25, -0.45, -0.16, -0.42, -0.27, -0.12, -0.16, -0.40, -0.39, -0.18,
           -0.22, -0.48, -0.45, -0.22, -0.25, -0.52, -0.52, -0.27, -0.29, -0.58,
           -0.59, -0.30, -0.62, -0.34, -0.66, -0.32, -0.70, -0.37, -0.73, -0.35,
           -0.70, -0.41, -0.72, -0.38, -0.69, -0.43, -0.74, -0.40, -0.78, -0.45,
           -0.82, -0.48, -0.83, -0.52, -0.86, -0.55, -0.90, -0.57, -0.94, -0.60,
           -1.01, -0.62, -0.98, -0.68, -1.05, -0.72, -1.08, -0.74, -1.12, -0.78,
           -1.15, -0.85, -1.22, -0.87, -1.25, -0.90, -1.30, -0.95, -1.33, -0.98,
           -1.38, -1.02, -1.40, -1.05, -1.45, -1.07, -1.47, -1.10, -1.52, -1.15,
           -1.55, -1.19, -1.60, -1.24, -1.65, -1.29, -1.66, -1.32, -1.68, -1.36,
           -1.72, -1.40, -1.75, -1.45, -1.80, -1.48, -1.82, -1.51, -1.88, -1.55,
           -1.93, -1.61, -1.98, -1.63, -2.00, -1.65, -2.03, -1.68, -2.04, -1.72,
           -2.08, -1.75, -2.11, -1.80, -2.15, -1.82, -2.18, -1.85, -2.20, -1.88,
           -2.25, -1.93, -2.32, -1.98, -2.38, -2.04, -2.42, -1.90, -1.65]

# ---------------------------------------------------------------------------
sns.set_style("ticks")
plt.rcParams.update({
    "font.family": ["STIXGeneral", "DejaVu Serif"],
    "mathtext.fontset": "stix",
    "axes.edgecolor": "black",
    "axes.linewidth": 0.9,
    "xtick.color": "black",
    "ytick.color": "black",
    "xtick.direction": "out",
    "ytick.direction": "out",
    "xtick.major.size": 3.5,
    "ytick.major.size": 3.5,
    "xtick.minor.size": 2.0,
    "ytick.minor.size": 2.0,
    "axes.axisbelow": True,
})

st = np.asarray(BINS, dtype=float) * DST

fig = plt.figure(figsize=(10.4, 7.99), dpi=100)
ax_a = fig.add_axes([0.0795, 0.5598, 0.4147, 0.4285])
ax_b = fig.add_axes([0.5872, 0.5591, 0.4121, 0.4255])
ax_c = fig.add_axes([0.0811, 0.0517, 0.4135, 0.4277])
ax_d = fig.add_axes([0.5830, 0.0526, 0.4163, 0.4309])

panels = [
    (ax_a, [EX_X000, EX_X010, EX_X031, EX_X058, EX_X100],
     r"$E_x\mathrm{St}^{\frac{5}{3}}$", (1e-10, 2.0), "(a)", 0.918),
    (ax_b, [EY_X000, EY_X010, EY_X031, EY_X058, EY_X100],
     r"$E_y\mathrm{St}^{\frac{5}{3}}$", (1e-10, 2.0), "(b)", 0.919),
    (ax_c, [EZ_X000, EZ_X010, EZ_X031, EZ_X058, EZ_X100],
     r"$E_z\mathrm{St}^{\frac{5}{3}}$", (1e-10, 2.0), "(c)", 0.917),
    (ax_d, [EP_X000, EP_X010, EP_X031, EP_X058, EP_X100],
     r"$E_p\mathrm{St}^{\frac{7}{3}}$", (1e-7, 2.0), "(d)", 0.877),
]

for ax, spectra, ylab, ylim, tag, tag_y in panels:
    ax.set_xscale("log")
    ax.set_yscale("log")
    frames = []
    for name, logs in zip(STATIONS, spectra):
        assert len(logs) == len(BINS), (tag, name, len(logs))
        frames.append(pd.DataFrame({"St": st,
                                    "E": 10.0 ** np.asarray(logs),
                                    "station": name}))
    df = pd.concat(frames, ignore_index=True)
    sns.lineplot(data=df, x="St", y="E", hue="station", hue_order=STATIONS,
                 palette=COLORS, estimator=None, lw=1.1, ax=ax,
                 legend=(tag == "(a)"))

    ax.set_xlim(st[0], st[-1])
    ax.set_ylim(*ylim)

    ax.set_xticks([0.1, ST_S, 1, 2, 3, 10])
    ax.set_xticklabels([r"$10^{-1}$", r"$\mathrm{St}_s$", "1", "2", "3", "10"])
    ax.xaxis.set_minor_locator(mticker.LogLocator(base=10, subs=np.arange(2, 10),
                                                  numticks=30))
    ax.xaxis.set_minor_formatter(mticker.NullFormatter())

    if tag == "(d)":
        yt = [1e-6, 1e-4, 1e-2, 1.0]
        ax.yaxis.set_minor_locator(mticker.LogLocator(base=10,
                                                      subs=np.arange(1, 10),
                                                      numticks=30))
    else:
        yt = [1e-10, 1e-8, 1e-6, 1e-4, 1e-2, 1.0]
        ax.yaxis.set_minor_locator(mticker.NullLocator())
    ax.set_yticks(yt)
    ax.set_yticklabels([r"$10^{%d}$" % int(round(np.log10(v))) if v != 1.0 else "1"
                        for v in yt])
    ax.yaxis.set_minor_formatter(mticker.NullFormatter())

    ax.tick_params(axis="both", which="major", labelsize=12)
    ax.grid(True, which="major", color="#b0b0b0", lw=0.8)
    for side in ("top", "right", "bottom", "left"):
        ax.spines[side].set_visible(True)

    ax.set_xlabel("St", fontsize=14.5, labelpad=-2)
    ax.set_ylabel(ylab, fontsize=15)

    ax.text(0.062, tag_y, tag, transform=ax.transAxes, fontsize=14,
            ha="center", va="center",
            bbox=dict(boxstyle="square,pad=0.4", fc="white", ec="black", lw=0.9))

sns.move_legend(ax_a, "lower left", title=None, fontsize=12, frameon=True)

fig.savefig("out.png", dpi=100)
